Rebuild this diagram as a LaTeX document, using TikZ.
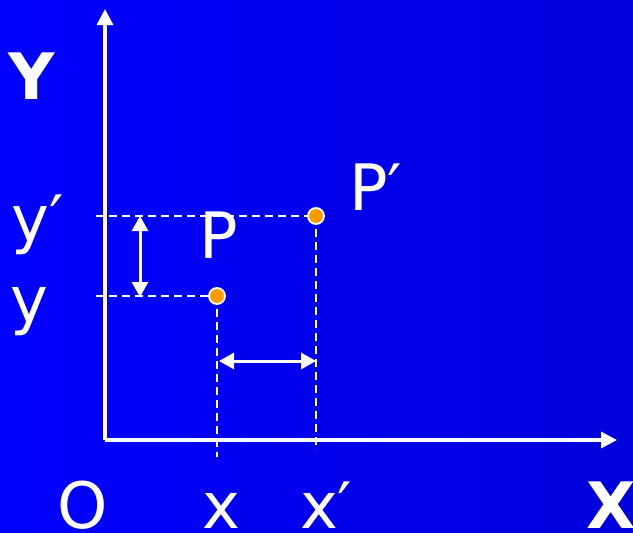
\documentclass[tikz,border=0pt]{standalone}
\usepackage{fontspec}
\setmainfont{DejaVu Sans}
\usetikzlibrary{arrows.meta}
\begin{document}
\begin{tikzpicture}[x=1pt,y=-1pt,
  lbl/.style={inner sep=0pt,outer sep=0pt,text=white,font=\fontsize{64}{64}\selectfont},
  blbl/.style={lbl,font=\fontsize{64}{64}\selectfont\bfseries},
  axis/.style={white,line width=3.2pt,-{Triangle[width=16pt,length=16pt]}},
  guide/.style={white,line width=2.4pt,dash pattern=on 8pt off 5pt},
  dim/.style={white,line width=3pt,{Triangle[width=16pt,length=15pt]}-{Triangle[width=16pt,length=15pt]}},
  pt/.style={circle,fill={rgb,255:red,255;green,153;blue,0},draw=white,line width=1.8pt,minimum size=16pt,inner sep=0pt}]
\shade[left color={rgb,255:red,0;green,0;blue,255},right color={rgb,255:red,0;green,0;blue,218}] (0,0) rectangle (633,533);
\useasboundingbox (0,0) rectangle (633,533);
% coordinates
\coordinate (O) at (105,440);
\coordinate (Ytip) at (105,9);
\coordinate (Xtip) at (617,440);
\coordinate (ypL) at (96,216);
\coordinate (yL) at (96,296);
\coordinate (xB) at (217,457);
\coordinate (xpB) at (316,450);
\coordinate (va) at (140,216);
\coordinate (vb) at (140,297);
\coordinate (ha) at (219,361);
\coordinate (hb) at (316,361);
% guides
\draw[guide] (ypL) -- (316,216);
\draw[guide] (yL) -- (217,296);
\draw[guide] (217,296) -- (xB);
\draw[guide] (316,216) -- (xpB);
% axes
\draw[axis] (O) -- (Ytip);
\draw[axis] (O) -- (Xtip);
% dimension arrows
\draw[dim] (va) -- (vb);
\draw[dim] (ha) -- (hb);
% points
\node[pt] (P) at (217,296) {};
\node[pt] (Pp) at (316,216) {};
% labels
\node[blbl,anchor=base] (Ylab) at (32,99) {Y};
\node[blbl,anchor=base] (Xlab) at (611,528) {X};
\node[lbl,anchor=base] (Olab) at (83,528) {O};
\node[lbl,anchor=base] (xlab) at (221,528) {x};
\node[lbl,anchor=base west] (xplab) at (300,528) {x′};
\node[lbl,anchor=base west] (yplab) at (12,241) {y′};
\node[lbl,anchor=base west] (ylab) at (10,322) {y};
\node[lbl,anchor=base west] (Plab) at (199,258) {P};
\node[lbl,anchor=base west] (Pplab) at (349,210) {P′};
\end{tikzpicture}
\end{document}
